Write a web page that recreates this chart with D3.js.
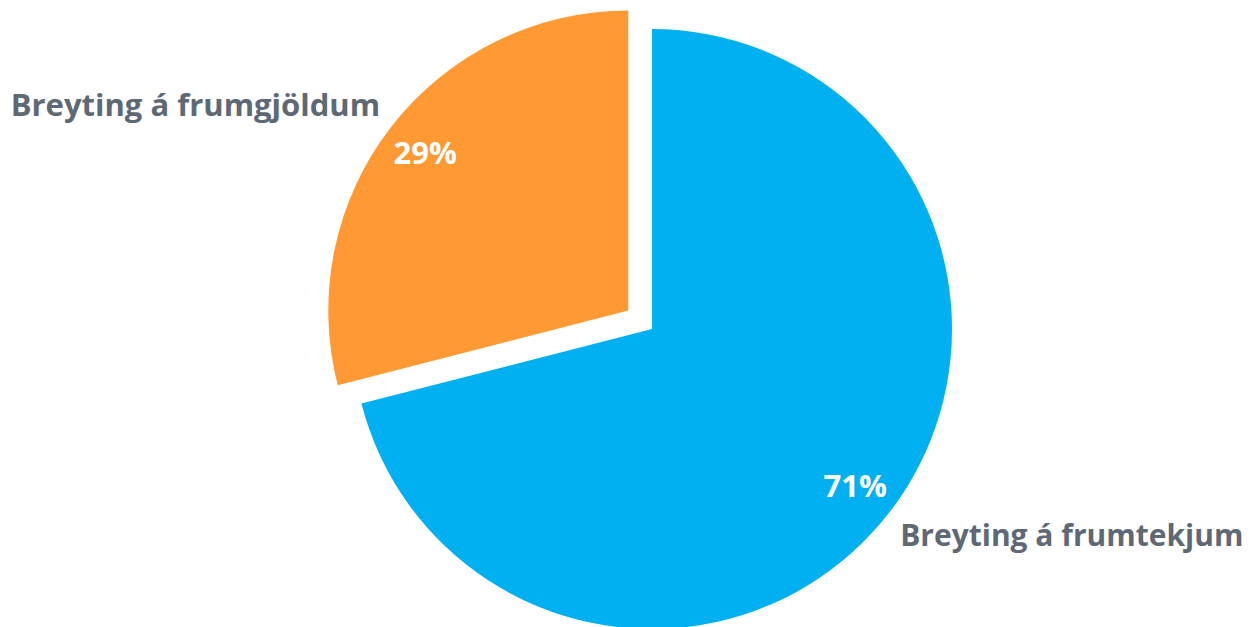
<!DOCTYPE html>
<html>
<head>
<meta charset="utf-8">
<script src="https://cdn.jsdelivr.net/npm/d3@7"></script>
<style>
  body { margin: 0; background: #fff; }
  text { font-family: "Open Sans", sans-serif; font-weight: bold; }
</style>
</head>
<body>
<script>
// chart data
const categories = ["Breyting á frumtekjum", "Breyting á frumgjöldum"];
const values = [71, 29];
const pctLabels = ["71%", "29%"];
const colors = ["#00B0F0", "#FF9933"];

const width = 1255, height = 627;
const cx = 652, cy = 329, radius = 300;

const svg = d3.select("body").append("svg")
  .attr("width", width)
  .attr("height", height);

const pie = d3.pie().sort(null).value(d => d.value);
const arcs = pie(values.map((v, i) => ({ value: v, name: categories[i], label: pctLabels[i], color: colors[i] })));

const arc = d3.arc().innerRadius(0).outerRadius(radius);
const labelArc = d3.arc().innerRadius(radius * 0.857).outerRadius(radius * 0.857);

// only the second slice is pulled out
const explode = [0, 30];

const g = svg.append("g").attr("transform", `translate(${cx},${cy})`);

const slice = g.selectAll("g.slice")
  .data(arcs)
  .join("g")
  .attr("class", "slice")
  .attr("transform", (d, i) => {
    const a = (d.startAngle + d.endAngle) / 2;
    return `translate(${Math.sin(a) * explode[i]},${-Math.cos(a) * explode[i]})`;
  });

slice.append("path")
  .attr("d", arc)
  .attr("fill", d => d.data.color);

slice.append("text")
  .attr("transform", d => `translate(${labelArc.centroid(d)})`)
  .attr("text-anchor", "middle")
  .attr("dy", "0.35em")
  .attr("fill", "#fff")
  .attr("font-size", 31)
  .text(d => d.data.label);

// category names sit beside the percent label, outward
slice.append("text")
  .attr("transform", d => {
    const [x, y] = labelArc.centroid(d);
    const a = (d.startAngle + d.endAngle) / 2;
    const right = Math.sin(a) > 0;
    return `translate(${x + (right ? 45 : -45)},${y + (right ? 59 : -37)})`;
  })
  .attr("text-anchor", d => Math.sin((d.startAngle + d.endAngle) / 2) > 0 ? "start" : "end")
  .attr("fill", "#5E6975")
  .attr("font-size", d => Math.sin((d.startAngle + d.endAngle) / 2) > 0 ? 30 : 31)
  .text(d => d.data.name);
</script>
</body>
</html>
